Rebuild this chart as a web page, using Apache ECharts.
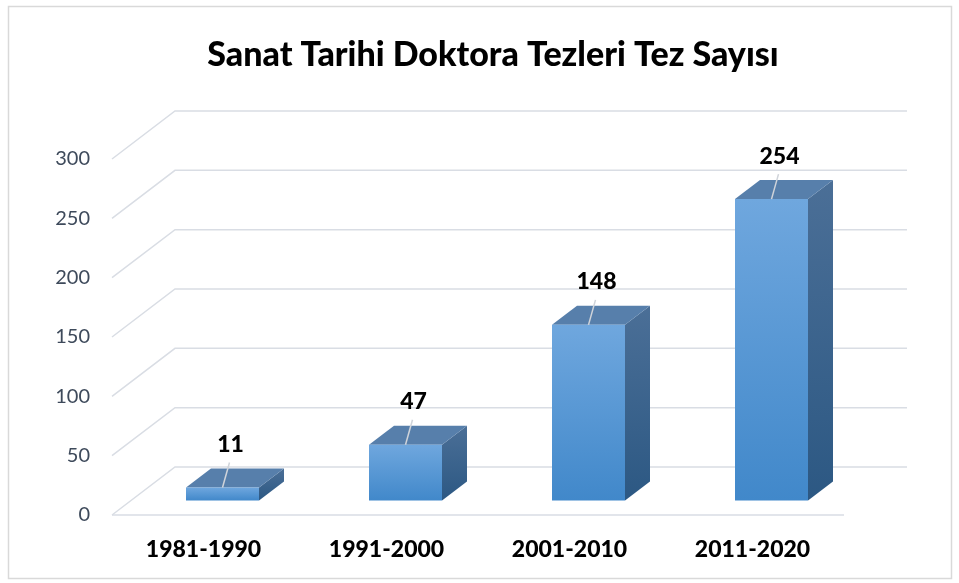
<!DOCTYPE html>
<html>
<head>
<meta charset="utf-8">
<script src="https://cdn.jsdelivr.net/npm/echarts@6/dist/echarts.min.js"></script>
<style>
  html, body { margin: 0; padding: 0; background: #fff; }
  #chart { width: 959px; height: 583px; }
</style>
</head>
<body>
<div id="chart"></div>
<script>
var categories = ['1981-1990', '1991-2000', '2001-2010', '2011-2020'];
var values = [11, 47, 148, 254];
var yTicks = [0, 50, 100, 150, 200, 250, 300];

// oblique depth of the wall and of the bars
var WALL = [63, -48];
var BAR_POS = [19, -14.5];
var BAR_DEPTH = [25, -19];
var BAR_HALF = 36.5;

var chart = echarts.init(document.getElementById('chart'));

function gridItem(params, api) {
  var cs = params.coordSys;
  var y = api.coord([0, api.value(0)])[1];
  var x0 = cs.x;
  var pts = [[x0, y], [x0 + WALL[0], y + WALL[1]], [x0 + cs.width + WALL[0], y + WALL[1]]];
  var children = [{
    type: 'polyline',
    shape: { points: pts },
    style: { stroke: '#d9dde4', lineWidth: 1.5, fill: null }
  }];
  if (api.value(0) === 0) {
    children.push({
      type: 'line',
      shape: { x1: x0, y1: y, x2: x0 + cs.width, y2: y },
      style: { stroke: '#d9dde4', lineWidth: 1.5 }
    });
  }
  return { type: 'group', children: children };
}

function barItem(params, api) {
  var base = api.coord([api.value(0), 0]);
  var top = api.coord([api.value(0), api.value(1)]);
  var cx = base[0] + BAR_POS[0];
  var x1 = cx - BAR_HALF, x2 = cx + BAR_HALF;
  var yb = base[1] + BAR_POS[1];
  var yt = top[1] + BAR_POS[1];
  var dx = BAR_DEPTH[0], dy = BAR_DEPTH[1];
  return {
    type: 'group',
    children: [
      {
        type: 'polygon',
        shape: { points: [[x2, yt], [x2 + dx, yt + dy], [x2 + dx, yb + dy], [x2, yb]] },
        style: {
          fill: new echarts.graphic.LinearGradient(0, 0, 0, 1, [
            { offset: 0, color: '#4b6f97' },
            { offset: 1, color: '#2c5883' }
          ])
        }
      },
      {
        type: 'polygon',
        shape: { points: [[x1, yt], [x1 + dx, yt + dy], [x2 + dx, yt + dy], [x2, yt]] },
        style: { fill: '#577fab' }
      },
      {
        type: 'rect',
        shape: { x: x1, y: yt, width: x2 - x1, height: yb - yt },
        style: {
          fill: new echarts.graphic.LinearGradient(0, 0, 0, 1, [
            { offset: 0, color: '#6fa7de' },
            { offset: 1, color: '#4188ca' }
          ])
        }
      },
      {
        type: 'line',
        shape: { x1: cx + 7, y1: yt - 25, x2: cx, y2: yt },
        style: { stroke: '#d0d4da', lineWidth: 1.5 }
      },
      {
        type: 'text',
        style: {
          text: String(api.value(1)),
          x: cx + 8,
          y: yt - 43,
          align: 'center',
          verticalAlign: 'middle',
          font: '900 23px Lato',
          fill: '#000'
        }
      }
    ]
  };
}

var option = {
  animation: false,
  title: {
    text: 'Sanat Tarihi Doktora Tezleri Tez Sayısı',
    left: 488,
    textAlign: 'center',
    top: 33,
    textStyle: { fontFamily: 'Lato', fontWeight: 900, fontSize: 34, color: '#000' }
  },
  graphic: [{
    type: 'rect',
    shape: { x: 8.5, y: 6.5, width: 943, height: 572 },
    style: { fill: null, stroke: '#d9d9d9', lineWidth: 1.5 },
    silent: true
  }],
  grid: { left: 112, top: 159, width: 732, height: 356 },
  xAxis: {
    type: 'category',
    data: categories,
    axisLine: { show: false },
    axisTick: { show: false },
    axisLabel: {
      margin: 23,
      fontFamily: 'Lato',
      fontWeight: 900,
      fontSize: 23,
      color: '#000'
    }
  },
  yAxis: {
    type: 'value',
    min: 0,
    max: 300,
    interval: 50,
    axisLine: { show: false },
    axisTick: { show: false },
    splitLine: { show: false },
    axisLabel: { margin: 22, fontFamily: 'Lato', fontSize: 20, color: '#3e4a5b' }
  },
  series: [
    {
      type: 'custom',
      renderItem: gridItem,
      data: yTicks.map(function (v) { return [v]; }),
      encode: { y: 0 },
      silent: true,
      z: 1
    },
    {
      type: 'custom',
      renderItem: barItem,
      data: values.map(function (v, i) { return [i, v]; }),
      encode: { x: 0, y: 1 },
      z: 2
    }
  ]
};

chart.setOption(option);
</script>
</body>
</html>
